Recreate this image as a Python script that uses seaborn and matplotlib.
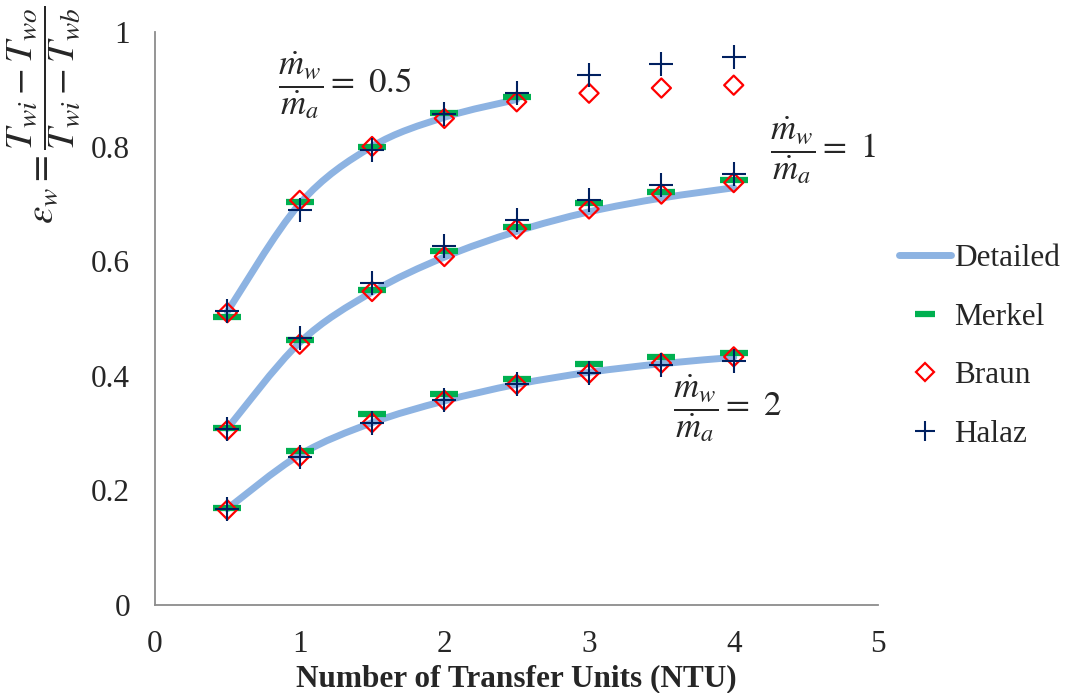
import numpy as np
import pandas as pd
import matplotlib
matplotlib.use("Agg")
import matplotlib.pyplot as plt
import seaborn as sns
from matplotlib.path import Path
from matplotlib.patches import PathPatch
from matplotlib.lines import Line2D

# ---- data -------------------------------------------------------------
ntu = [0.5, 1.0, 1.5, 2.0, 2.5, 3.0, 3.5, 4.0]

# detailed model (ratio 0.5 only computed up to NTU = 2.5)
detailed_05 = [0.512, 0.700, 0.800, 0.851, 0.882]
detailed_1 = [0.308, 0.458, 0.546, 0.607, 0.652, 0.686, 0.710, 0.728]
detailed_2 = [0.168, 0.262, 0.318, 0.356, 0.385, 0.406, 0.421, 0.432]

merkel_05 = [0.502, 0.704, 0.800, 0.858, 0.887]
merkel_1 = [0.309, 0.463, 0.549, 0.618, 0.660, 0.701, 0.720, 0.742]
merkel_2 = [0.169, 0.269, 0.334, 0.368, 0.395, 0.420, 0.433, 0.440]

braun_05 = [0.510, 0.706, 0.800, 0.849, 0.878, 0.893, 0.902, 0.907]
braun_1 = [0.305, 0.455, 0.547, 0.608, 0.656, 0.691, 0.717, 0.737]
braun_2 = [0.166, 0.259, 0.318, 0.357, 0.385, 0.404, 0.422, 0.433]

halaz_05 = [0.513, 0.689, 0.794, 0.856, 0.894, 0.925, 0.944, 0.957]
halaz_1 = [0.307, 0.465, 0.561, 0.626, 0.672, 0.707, 0.733, 0.752]
halaz_2 = [0.167, 0.259, 0.318, 0.358, 0.385, 0.404, 0.419, 0.426]

ratio_labels = [r"$\dfrac{\dot{m}_w}{\dot{m}_a} = \ 0.5$",
                r"$\dfrac{\dot{m}_w}{\dot{m}_a} = \ 1$",
                r"$\dfrac{\dot{m}_w}{\dot{m}_a} = \ 2$"]
ratio_label_pos = [(0.85, 0.908), (4.25, 0.793), (3.58, 0.343)]

x_ticks = [0, 1, 2, 3, 4, 5]
y_ticks = [0, 0.2, 0.4, 0.6, 0.8, 1.0]
y_tick_labels = ["0", "0.2", "0.4", "0.6", "0.8", "1"]

# ---- style ------------------------------------------------------------
sns.set_style("white")
plt.rcParams["font.family"] = ["Liberation Serif", "DejaVu Serif"]
plt.rcParams["mathtext.fontset"] = "stix"

C_DET = "#8DB3E2"
C_MER = "#00B050"
C_BRA = "#FF0000"
C_HAL = "#002060"
C_AX = "#8C8C8C"
FS = 22.5
FS_EQ = 25
FS_YLAB = 28


def long_frame(series, model):
    rows = []
    for vals in series:
        for x, y in zip(ntu, vals):
            rows.append((x, y, model))
    return pd.DataFrame(rows, columns=["ntu", "eff", "model"])


def smooth_path(xs, ys):
    """Catmull-Rom style cubic Bezier through the given points."""
    pts = np.column_stack([xs, ys]).astype(float)
    ext = np.vstack([pts[0], pts, pts[-1]])
    verts = [pts[0]]
    codes = [Path.MOVETO]
    for i in range(1, len(ext) - 2):
        p0, p1, p2, p3 = ext[i - 1], ext[i], ext[i + 1], ext[i + 2]
        c1 = p1 + (p2 - p0) / 6.0
        c2 = p2 - (p3 - p1) / 6.0
        verts += [c1, c2, p2]
        codes += [Path.CURVE4] * 3
    return Path(verts, codes)


fig = plt.figure(figsize=(10.72, 6.93), dpi=100)
ax = fig.add_axes([0.1446, 0.127, 0.8194 - 0.1446, 0.954 - 0.127])

# detailed model curves
for vals in (detailed_05, detailed_1, detailed_2):
    ax.add_patch(PathPatch(smooth_path(ntu[:len(vals)], vals), fill=False,
                           edgecolor=C_DET, lw=5.0, capstyle="round",
                           joinstyle="round", zorder=2))

df_mer = long_frame([merkel_05, merkel_1, merkel_2], "Merkel")
df_bra = long_frame([braun_05, braun_1, braun_2], "Braun")
df_hal = long_frame([halaz_05, halaz_1, halaz_2], "Halaz")

sns.scatterplot(data=df_mer, x="ntu", y="eff", ax=ax, marker="_", s=400,
                color=C_MER, linewidth=4.5, zorder=3, legend=False)
sns.scatterplot(data=df_bra, x="ntu", y="eff", ax=ax, marker="D", s=95,
                color=C_BRA, facecolor="none", edgecolor=C_BRA,
                linewidth=1.6, zorder=4, legend=False)
sns.scatterplot(data=df_hal, x="ntu", y="eff", ax=ax, marker="+", s=280,
                color=C_HAL, linewidth=1.5, zorder=5, legend=False)

for txt, (tx, ty) in zip(ratio_labels, ratio_label_pos):
    ax.text(tx, ty, txt, fontsize=FS_EQ, ha="left", va="center", zorder=6)

# ---- axes -------------------------------------------------------------
ax.set_xlim(0, 5)
ax.set_ylim(0, 1)
ax.set_xticks(x_ticks)
ax.set_xticks(np.arange(0.5, 5, 1.0), minor=True)
ax.set_yticks(y_ticks)
ax.set_yticklabels(y_tick_labels)
ax.set_yticks(np.arange(0.1, 1.0, 0.2), minor=True)
for side in ("top", "right"):
    ax.spines[side].set_visible(False)
for side in ("left", "bottom"):
    ax.spines[side].set_color(C_AX)
    ax.spines[side].set_linewidth(1.3)
ax.tick_params(axis="both", which="both", direction="in", color=C_AX,
               width=1.3, length=5, labelsize=FS)
ax.tick_params(axis="y", which="major", pad=18)
ax.tick_params(axis="x", which="major", pad=18)
ax.tick_params(axis="both", which="minor", labelbottom=False, labelleft=False)

ax.set_xlabel("Number of Transfer Units (NTU)", fontsize=FS,
              fontweight="bold", labelpad=4)
ax.set_ylabel(r"$\varepsilon_w = \dfrac{T_{wi} - T_{wo}}{T_{wi} - T_{wb}}$",
              fontsize=FS_YLAB, rotation=90)
ax.yaxis.set_label_coords(-0.101, 0.855)

handles = [
    Line2D([], [], color=C_DET, lw=5.0, solid_capstyle="round"),
    Line2D([], [], color=C_MER, marker="_", ls="none", markersize=14,
           markeredgewidth=4.5),
    Line2D([], [], color=C_BRA, marker="D", ls="none", markersize=9,
           markerfacecolor="none", markeredgewidth=1.6),
    Line2D([], [], color=C_HAL, marker="+", ls="none", markersize=14,
           markeredgewidth=1.5),
]
fig.legend(handles, ["Detailed", "Merkel", "Braun", "Halaz"],
           loc="center left", bbox_to_anchor=(0.827, 0.5), frameon=False,
           fontsize=FS, handlelength=1.65, handletextpad=0.1,
           labelspacing=0.95, borderaxespad=0)

fig.savefig("out.png", dpi=100)
